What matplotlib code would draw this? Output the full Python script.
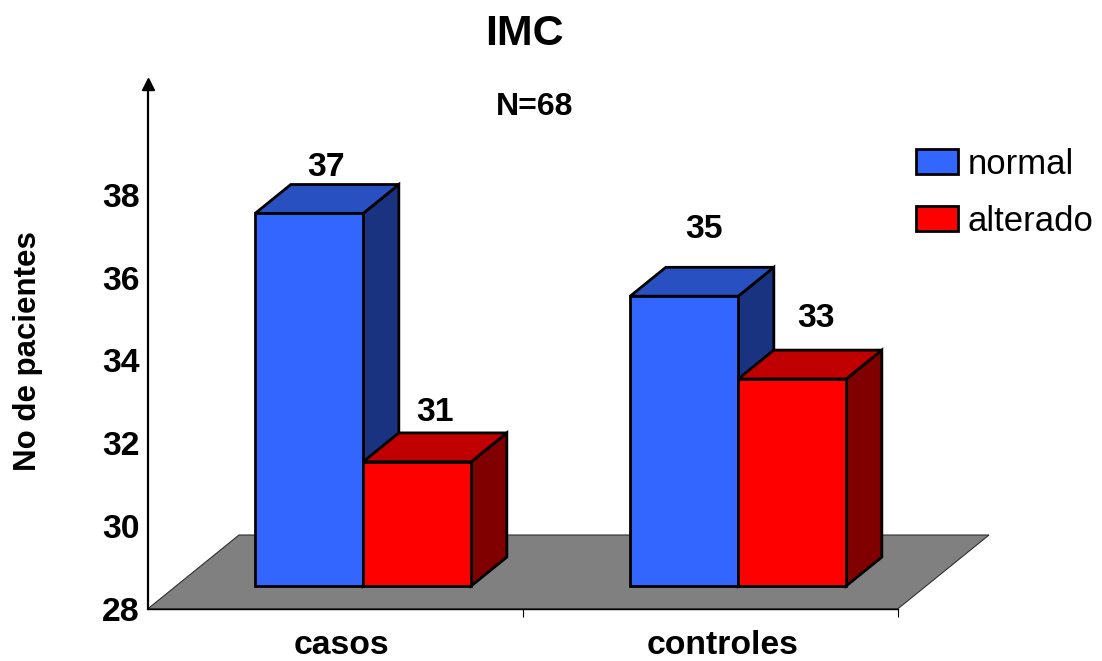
from matplotlib import pyplot as plt
from matplotlib.patches import Polygon

plt.rcParams['font.family'] = ['Liberation Sans', 'DejaVu Sans']

categorias = ['casos', 'controles']
series = ['normal', 'alterado']
normal = [37, 35]
alterado = [31, 33]
y_ticks = [28, 30, 32, 34, 36, 38]

W, H = 1102, 661
fig = plt.figure(figsize=(W / 100, H / 100), dpi=100)

# ejes: x 148..898 px, y=28 en 608.7 px, 41.4 px por unidad
ax_top = 84
ax = fig.add_axes([148 / W, 1 - 608.7 / H, 750 / W, (608.7 - ax_top) / H])
ax.set_xlim(0, 2)
ax.set_ylim(28, 28 + (608.7 - ax_top) / 41.4)

# proyeccion oblicua: profundidad d de 0 a 1
dep_x = 91 / 375
dep_y = 73.7 / 41.4


def proj(x, y, d):
    return (x + d * dep_x, y + d * dep_y)


y0 = ax.get_ylim()[0]
ax.add_patch(Polygon([proj(0, y0, 0), proj(2, y0, 0), proj(2, y0, 1), proj(0, y0, 1)],
                     facecolor='#808080', edgecolor='#303030', linewidth=0.8, clip_on=False, zorder=1))

d0, d1 = 0.308, 0.70
bar_w = 0.288
colores = {'normal': ('#3366FF', '#2850C0', '#1A3380'),
           'alterado': ('#FF0000', '#C00000', '#800000')}


def barra(x, val, cols, z):
    # lateral, tapa y frente
    xr = x + bar_w
    caras = [
        ([proj(xr, y0, d0), proj(xr, y0, d1), proj(xr, val, d1), proj(xr, val, d0)], cols[2]),
        ([proj(x, val, d0), proj(xr, val, d0), proj(xr, val, d1), proj(x, val, d1)], cols[1]),
        ([proj(x, y0, d0), proj(xr, y0, d0), proj(xr, val, d0), proj(x, val, d0)], cols[0]),
    ]
    for pts, c in caras:
        ax.add_patch(Polygon(pts, facecolor=c, edgecolor='black', linewidth=2.0,
                             joinstyle='miter', clip_on=False, zorder=z))


# desplazamiento de cada etiqueta sobre la barra (px)
offs = {('normal', 0): (-19, 17), ('alterado', 0): (-18, 20),
        ('normal', 1): (-16, 38), ('alterado', 1): (-12, 32)}

for i in range(len(categorias)):
    xc = i + 0.499
    barra(xc - bar_w, normal[i], colores['normal'], 3 + i * 2)
    barra(xc, alterado[i], colores['alterado'], 4 + i * 2)
    for nom, x, v in (('normal', xc - bar_w, normal[i]), ('alterado', xc, alterado[i])):
        px, py = proj(x + bar_w / 2, v, d1)
        ox, oy = offs[(nom, i)]
        ax.annotate(str(v), (px, py), xytext=(ox * 0.72, oy * 0.72), textcoords='offset points',
                    ha='center', va='center', fontsize=24.3, fontweight='bold', zorder=10,
                    annotation_clip=False)

# spines y ticks
for s in ['top', 'right']:
    ax.spines[s].set_visible(False)
ax.spines['left'].set_linewidth(1.6)
ax.spines['bottom'].set_linewidth(1.0)
ax.spines['bottom'].set_zorder(2)
ax.plot(0, 1, marker='^', color='black', markersize=8.5, transform=ax.transAxes, clip_on=False, zorder=5)

ax.set_yticks(y_ticks)
ax.set_yticklabels([str(t) for t in y_ticks], fontsize=24.3, fontweight='bold')
ax.tick_params(axis='y', length=0, pad=6)
ax.set_xticks([1, 2])
ax.set_xticklabels([])
ax.tick_params(axis='x', which='major', length=6, width=0.8)
ax.set_xticks([0.515, 1.533], minor=True)
ax.set_xticklabels(categorias, minor=True, fontsize=24.3, fontweight='bold')
ax.tick_params(axis='x', which='minor', length=0, pad=15)

fig.text(28 / W, 1 - 351 / H, 'No de pacientes', rotation=90, ha='center', va='center',
         fontsize=22.5, fontweight='bold')
fig.text(524 / W, 1 - 34 / H, 'IMC', ha='center', va='center', fontsize=31, fontweight='bold')
fig.text(535 / W, 1 - 107 / H, 'N=68', ha='center', va='center', fontsize=23, fontweight='bold')

# leyenda
handles = [plt.Rectangle((0, 0), 1, 1, facecolor=colores[s][0], edgecolor='black', linewidth=2.0) for s in series]
fig.legend(handles, series, loc='upper left', bbox_to_anchor=(916 / W, 1 - 148 / H), frameon=False,
           fontsize=25, handlelength=1.2, handleheight=0.74, handletextpad=0.29,
           labelspacing=0.68, borderpad=0, borderaxespad=0)

fig.savefig('out.png', dpi=100)
